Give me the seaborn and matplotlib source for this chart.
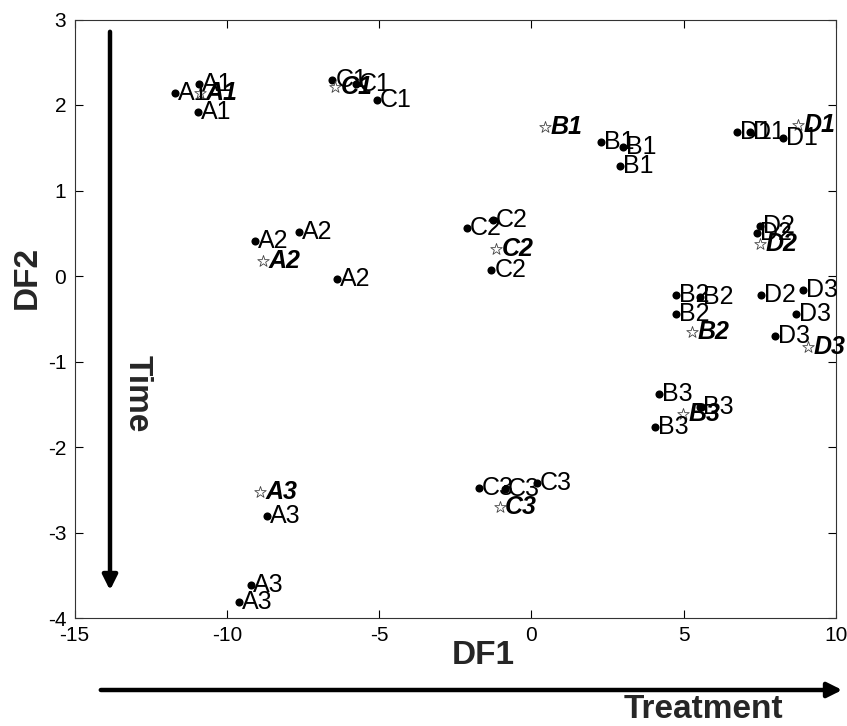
import matplotlib
matplotlib.use("Agg")
import matplotlib.pyplot as plt
from matplotlib.patches import FancyArrowPatch
import seaborn as sns
import pandas as pd

# ---- data ----
rep_labels = ["A1", "A1", "A1", "C1", "C1", "C1", "B1", "B1", "B1", "D1", "D1", "D1",
              "A2", "A2", "A2", "C2", "C2", "C2", "B2", "B2", "B2", "D2", "D2", "D2",
              "D3", "D3", "D3", "B3", "B3", "B3", "C3", "C3", "C3", "A3", "A3", "A3"]
rep_x = [-11.70, -10.90, -10.94, -6.53, -5.75, -5.08, 2.30, 3.01, 2.90, 6.75, 7.17, 8.26,
         -9.08, -7.62, -6.39, -2.13, -1.26, -1.31, 4.76, 5.55, 4.76, 7.50, 7.41, 7.55,
         8.92, 8.70, 7.99, 4.19, 4.05, 5.53, -1.71, -0.87, 0.17, -8.69, -9.22, -9.60]
rep_y = [2.14, 2.24, 1.92, 2.29, 2.25, 2.06, 1.57, 1.51, 1.29, 1.69, 1.68, 1.61,
         0.41, 0.52, -0.03, 0.56, 0.66, 0.07, -0.22, -0.24, -0.44, 0.58, 0.50, -0.22,
         -0.16, -0.44, -0.70, -1.38, -1.77, -1.53, -2.48, -2.49, -2.42, -2.81, -3.61, -3.81]

cent_labels = ["A1", "C1", "B1", "D1", "A2", "C2", "B2", "D2", "D3", "B3", "C3", "A3"]
cent_x = [-10.88, -6.45, 0.44, 8.75, -8.82, -1.17, 5.26, 7.50, 9.08, 4.98, -1.04, -8.91]
cent_y = [2.14, 2.21, 1.74, 1.77, 0.17, 0.32, -0.65, 0.38, -0.83, -1.61, -2.70, -2.53]

x_ticks = [-15, -10, -5, 0, 5, 10]
y_ticks = [-4, -3, -2, -1, 0, 1, 2, 3]

reps = pd.DataFrame({"label": rep_labels, "DF1": rep_x, "DF2": rep_y})
cents = pd.DataFrame({"label": cent_labels, "DF1": cent_x, "DF2": cent_y})

# ---- style ----
sns.set_theme(style="ticks")
plt.rcParams["font.family"] = ["Liberation Sans", "DejaVu Sans"]
plt.rcParams["axes.unicode_minus"] = False
plt.rcParams["xtick.direction"] = "in"
plt.rcParams["ytick.direction"] = "in"

fig = plt.figure(figsize=(8.47, 7.26), dpi=100)
ax = fig.add_axes([74.5 / 847, 1 - 618 / 726, (836 - 74.5) / 847, (618 - 19.5) / 726])

sns.scatterplot(data=reps, x="DF1", y="DF2", ax=ax, color="black", s=34,
                marker="o", edgecolor="black", linewidth=0, legend=False, zorder=3)
sns.scatterplot(data=cents, x="DF1", y="DF2", ax=ax, color="white", s=75,
                marker="*", edgecolor="#444444", linewidth=0.6, legend=False, zorder=3)

for lab, xx, yy in zip(rep_labels, rep_x, rep_y):
    ax.annotate(lab, (xx, yy), xytext=(2, 0), textcoords="offset points",
                ha="left", va="center", fontsize=18, color="black", zorder=4)
for lab, xx, yy in zip(cent_labels, cent_x, cent_y):
    ax.annotate(lab, (xx, yy), xytext=(4, 0), textcoords="offset points",
                ha="left", va="center", fontsize=18, fontweight="bold",
                fontstyle="italic", color="black", zorder=4)

ax.set_xlim(-15, 10)
ax.set_ylim(-4, 3)
ax.set_xticks(x_ticks)
ax.set_yticks(y_ticks)
ax.set_xticklabels([str(t) for t in x_ticks])
ax.set_yticklabels([str(t) for t in y_ticks])
ax.tick_params(axis="both", which="both", direction="in", length=6, width=0.8,
               top=True, right=True, labelsize=15, colors="black", pad=6)
for sp in ax.spines.values():
    sp.set_visible(True)
    sp.set_color("#333333")
    sp.set_linewidth(0.8)
ax.set_xlabel("")
ax.set_ylabel("")

# axis titles
fig.text(483 / 847, 1 - 655 / 726, "DF1", ha="center", va="center",
         fontsize=24, fontweight="bold")
fig.text(27 / 847, 1 - 277 / 726, "DF2", ha="center", va="center",
         fontsize=24, fontweight="bold", rotation=90)

# annotation arrows
fig.add_artist(FancyArrowPatch((110 / 847, 1 - 29 / 726), (110 / 847, 1 - 593 / 726),
                               transform=fig.transFigure, arrowstyle="-|>",
                               mutation_scale=22, lw=3.2, color="black"))
fig.add_artist(FancyArrowPatch((98 / 847, 1 - 690 / 726), (845 / 847, 1 - 690 / 726),
                               transform=fig.transFigure, arrowstyle="-|>",
                               mutation_scale=22, lw=3.2, color="black"))
fig.text(137 / 847, 1 - 394 / 726, "Time", ha="center", va="center",
         fontsize=24, fontweight="bold", rotation=-90)
fig.text(703 / 847, 1 - 709 / 726, "Treatment", ha="center", va="center",
         fontsize=24, fontweight="bold")

fig.savefig("out.png", dpi=100)
